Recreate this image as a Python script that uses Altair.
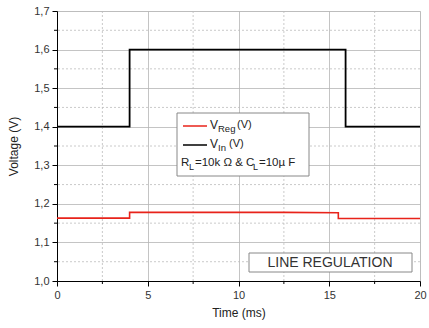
import altair as alt
import pandas as pd

# ---- data ----
t_in = [0, 4.0, 4.0, 15.9, 15.9, 20]
v_in = [1.4, 1.4, 1.6, 1.6, 1.4, 1.4]
t_reg = [0, 4.0, 4.0, 9.0, 12.5, 15.5, 15.5, 20]
v_reg = [1.163, 1.163, 1.178, 1.178, 1.178, 1.177, 1.162, 1.162]

x_major = [0, 5, 10, 15, 20]
x_minor = [2.5, 7.5, 12.5, 17.5]
y_major = [1.0, 1.1, 1.2, 1.3, 1.4, 1.5, 1.6, 1.7]
y_minor = [1.05, 1.15, 1.25, 1.35, 1.45, 1.55, 1.65]

df_in = pd.DataFrame({"t": t_in, "v": v_in})
df_reg = pd.DataFrame({"t": t_reg, "v": v_reg})
df_xm = pd.DataFrame({"t": x_minor})
df_ym = pd.DataFrame({"v": y_minor})

FONT = "Liberation Sans"
xs = alt.Scale(domain=[0, 20], nice=False, zero=False)
ys = alt.Scale(domain=[1.0, 1.7], nice=False, zero=False)

x_axis = alt.Axis(values=x_major, grid=True, gridColor="#b5b5b5",
                  gridWidth=0.8, tickSize=5, tickColor="black",
                  domainColor="black", labelFont=FONT, labelFontSize=11,
                  labelColor="#333", labelOverlap=False, labelFlush=False,
                  titleFont=FONT, titleFontSize=12,
                  titleFontWeight="normal", titleColor="#222",
                  labelPadding=3, titlePadding=7, format="d")
y_axis = alt.Axis(values=y_major, grid=True, gridColor="#b5b5b5",
                  gridWidth=0.8, tickSize=5, tickColor="black",
                  domainColor="black", labelFont=FONT, labelFontSize=11,
                  labelColor="#333", labelOverlap=False, labelFlush=False,
                  labelExpr="replace(format(datum.value, '.1f'), '.', ',')",
                  titleFont=FONT, titleFontSize=12,
                  titleFontWeight="normal", titleColor="#222",
                  labelPadding=3, titlePadding=13)

xe = alt.X("t:Q", scale=xs, axis=x_axis, title="Time (ms)")
ye = alt.Y("v:Q", scale=ys, axis=y_axis, title="Voltage (V)")

line_in = alt.Chart(df_in).mark_line(color="black", strokeWidth=1.8).encode(x=xe, y=ye)
line_reg = alt.Chart(df_reg).mark_line(color="#e8231a", strokeWidth=1.6).encode(x=xe, y=ye)

grid_xm = alt.Chart(df_xm).mark_rule(color="#bdbdbd", strokeDash=[2, 2], strokeWidth=0.8).encode(x=xe)
grid_ym = alt.Chart(df_ym).mark_rule(color="#bdbdbd", strokeDash=[2, 2], strokeWidth=0.8).encode(y=ye)
tick_xm = alt.Chart(df_xm).mark_rule(color="black").encode(
    x=xe, y=alt.value(270), y2=alt.value(273))
tick_ym = alt.Chart(df_ym).mark_rule(color="black").encode(
    y=ye, x=alt.value(-3), x2=alt.value(0))

# legend box
leg_box = alt.Chart(pd.DataFrame({"a": [0]})).mark_rect(
    fill="white", stroke="#888", strokeWidth=1).encode(
    x=alt.value(120), x2=alt.value(252), y=alt.value(102), y2=alt.value(165))
leg_red = alt.Chart(pd.DataFrame({"a": [0]})).mark_rule(color="#e8231a", strokeWidth=1.5).encode(
    x=alt.value(126), x2=alt.value(150), y=alt.value(115))
leg_blk = alt.Chart(pd.DataFrame({"a": [0]})).mark_rule(color="black", strokeWidth=1.5).encode(
    x=alt.value(126), x2=alt.value(150), y=alt.value(134))

def txt(s, x, y, size, align="left", color="#222"):
    return alt.Chart(pd.DataFrame({"s": [s]})).mark_text(
        font=FONT, fontSize=size, align=align, baseline="middle", color=color).encode(
        text="s:N", x=alt.value(x), y=alt.value(y))

texts = [
    txt("V", 153, 114, 12), txt("Reg", 161, 118, 9.5), txt("(V)", 180, 114, 11),
    txt("V", 153, 133, 12), txt("In", 161, 137, 9.5), txt("(V)", 172, 133, 11),
    txt("R", 124, 152, 11.5), txt("L", 132, 156, 9), txt("=10k \u03a9 & C", 138, 152, 11.5),
    txt("L", 196, 156, 9), txt("=10\u00b5 F", 202, 152, 11.5),
]

reg_box = alt.Chart(pd.DataFrame({"a": [0]})).mark_rect(
    fill="white", stroke="#888", strokeWidth=1).encode(
    x=alt.value(192), x2=alt.value(355), y=alt.value(242), y2=alt.value(261))
reg_txt = txt("LINE REGULATION", 273, 252, 14, align="center", color="#333")

chart = alt.layer(
    grid_xm, grid_ym, line_in, line_reg, tick_xm, tick_ym,
    leg_box, leg_red, leg_blk, *texts, reg_box, reg_txt
).properties(
    width=363, height=270,
    autosize=alt.AutoSizeParams(type="none"),
    padding={"left": 57, "top": 11, "right": 9, "bottom": 47},
).configure_view(stroke="black", strokeWidth=1.5).configure(background="white")

chart.save("out.html", embed_options={"renderer": "svg", "actions": False})
